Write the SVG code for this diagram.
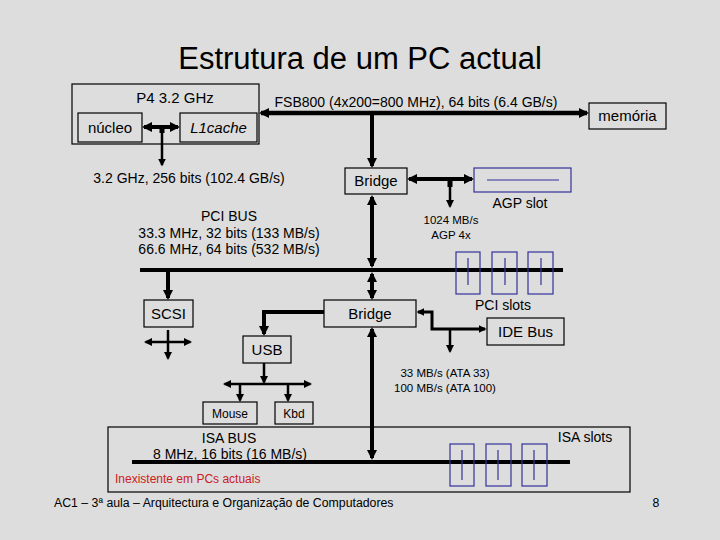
<svg xmlns="http://www.w3.org/2000/svg" width="720" height="540" viewBox="0 0 720 540">
<defs>
<style>
text{font-family:"Liberation Sans",Arial,sans-serif;fill:#000}
.box{fill:none;stroke:#000;stroke-width:1.2}
.slot{fill:none;stroke:#333399;stroke-width:1.2}
.lbl{font-size:15px;text-anchor:middle}
.t14{font-size:14px;text-anchor:middle}
.t12{font-size:12px;text-anchor:middle}
.t11{font-size:11.5px;text-anchor:middle}
.thick{stroke:#000;stroke-width:4;fill:none;marker-end:url(#a4)}
.thick2{stroke:#000;stroke-width:4;fill:none;marker-start:url(#a4);marker-end:url(#a4)}
.thin{stroke:#000;stroke-width:2.5;fill:none;marker-end:url(#a2)}
.thin2{stroke:#000;stroke-width:2.5;fill:none;marker-start:url(#a2);marker-end:url(#a2)}
.bus{stroke:#000;stroke-width:4;fill:none}
</style>
<marker id="a4" viewBox="0 0 10 10" markerWidth="10" markerHeight="10" refX="8" refY="5" orient="auto-start-reverse" markerUnits="userSpaceOnUse"><path d="M0,0 L10,5 L0,10 z" fill="#000"/></marker>
<marker id="a2" viewBox="0 0 10 10" markerWidth="8" markerHeight="8" refX="8" refY="5" orient="auto-start-reverse" markerUnits="userSpaceOnUse"><path d="M0,0 L10,5 L0,10 z" fill="#000"/></marker>
</defs>
<rect width="720" height="540" fill="#dddddd"/>
<text x="360" y="69" style="font-size:31px;text-anchor:middle">Estrutura de um PC actual</text>

<g id="connectors">
<line class="thick2" x1="144" y1="127" x2="178" y2="127"/>
<rect x="159.5" y="127" width="5" height="6" fill="#000"/>
<line class="thin" x1="162" y1="127" x2="162" y2="165"/>
<line class="thick2" x1="261" y1="113" x2="587" y2="113" style="stroke-width:4.5"/>
<line class="thick" x1="372" y1="113" x2="372" y2="166"/>
<line class="thick2" x1="409" y1="179" x2="472" y2="179"/>
<rect x="447.5" y="179" width="5" height="8" fill="#000"/>
<line class="thin" x1="450" y1="183" x2="450" y2="206.4"/>
<line class="thick2" x1="372" y1="197" x2="372" y2="266"/>
<line class="thick2" x1="372" y1="274" x2="372" y2="298"/>
<line class="bus" x1="140" y1="270" x2="563" y2="270"/>
<line class="thick" x1="168" y1="270" x2="168" y2="298"/>
<line class="thin2" x1="145.6" y1="342" x2="190.4" y2="342"/>
<line class="thin" x1="168" y1="330" x2="168" y2="358.4"/>
<path class="thick" d="M324,312 H264 V334"/>
<line class="thin" x1="264" y1="363" x2="264" y2="382.4"/>
<line class="thin2" x1="224.6" y1="384" x2="310.4" y2="384"/>
<line class="thin" x1="240" y1="384" x2="240" y2="400.4"/>
<line class="thin" x1="288" y1="384" x2="288" y2="400.4"/>
<line class="thick2" x1="372" y1="329" x2="372" y2="458"/>
<path class="thin2" d="M418,312 H432 V329 H485" style="stroke-width:3"/>
<line class="thin" x1="450" y1="329" x2="450" y2="351.4"/>
<line class="bus" x1="132" y1="462" x2="570" y2="462"/>
</g>

<g id="cpu">
<rect class="box" x="72" y="84" width="187" height="60"/>
<text class="lbl" x="175" y="103">P4 3.2 GHz</text>
</g>
<g id="nucleo">
<rect class="box" x="78" y="113" width="64" height="29"/>
<text class="lbl" x="110" y="133">núcleo</text>
</g>
<g id="l1cache">
<rect class="box" x="180" y="113" width="77" height="29"/>
<text class="lbl" x="218.5" y="133" style="font-style:italic">L1cache</text>
</g>
<g id="cpu-bus-label">
<text class="t14" x="189" y="183">3.2 GHz, 256 bits (102.4 GB/s)</text>
</g>
<g id="fsb-label">
<text class="t14" x="416" y="107">FSB800 (4x200=800 MHz), 64 bits (6.4 GB/s)</text>
</g>
<g id="memoria">
<rect class="box" x="589" y="103" width="77" height="26"/>
<text class="lbl" x="627.5" y="121">memória</text>
</g>
<g id="bridge1">
<rect class="box" x="345" y="168" width="62" height="26"/>
<text class="lbl" x="376" y="186">Bridge</text>
</g>
<g id="agp-slot">
<rect class="slot" x="474" y="168" width="97" height="24"/>
<line x1="487" y1="180" x2="559" y2="180" stroke="#333399" stroke-width="1.2"/>
<text class="t14" x="520" y="208">AGP slot</text>
</g>
<g id="agp-label">
<text class="t11" x="451" y="224">1024 MB/s</text>
<text class="t11" x="451" y="239">AGP 4x</text>
</g>
<g id="pci-bus-label">
<text class="t14" x="229" y="221">PCI BUS</text>
<text class="t14" x="229" y="238">33.3 MHz, 32 bits (133 MB/s)</text>
<text class="t14" x="229" y="254">66.6 MHz, 64 bits (532 MB/s)</text>
</g>
<g id="pci-slots">
<rect class="slot" x="456" y="252" width="24" height="42"/>
<rect class="slot" x="492" y="252" width="25" height="42"/>
<rect class="slot" x="528" y="252" width="25" height="42"/>
<line x1="468" y1="258" x2="468" y2="285" stroke="#333399" stroke-width="1.2"/>
<line x1="505" y1="258" x2="505" y2="285" stroke="#333399" stroke-width="1.2"/>
<line x1="541" y1="258" x2="541" y2="285" stroke="#333399" stroke-width="1.2"/>
<text class="t14" x="503" y="310">PCI slots</text>
</g>
<g id="scsi">
<rect class="box" x="144" y="300" width="49" height="27"/>
<text class="lbl" x="168.5" y="319">SCSI</text>
</g>
<g id="bridge2">
<rect class="box" x="324" y="300" width="92" height="27"/>
<text class="lbl" x="370" y="319">Bridge</text>
</g>
<g id="ide-bus">
<rect class="box" x="487" y="318" width="77" height="27"/>
<text class="lbl" x="525.5" y="337">IDE Bus</text>
</g>
<g id="ide-label">
<text class="t11" x="445" y="377">33 MB/s (ATA 33)</text>
<text class="t11" x="445" y="392">100 MB/s (ATA 100)</text>
</g>
<g id="usb">
<rect class="box" x="243" y="336" width="48" height="27"/>
<text class="lbl" x="267" y="355">USB</text>
</g>
<g id="mouse">
<rect class="box" x="203" y="402" width="54" height="22"/>
<text class="t12" x="230" y="418">Mouse</text>
</g>
<g id="kbd">
<rect class="box" x="275" y="402" width="38" height="22"/>
<text class="t12" x="294" y="418">Kbd</text>
</g>
<g id="isa">
<rect class="box" x="108" y="427" width="522" height="65"/>
<text class="t14" x="229" y="443">ISA BUS</text>
<text class="t14" x="230" y="459">8 MHz, 16 bits (16 MB/s)</text>
<text x="115" y="483" style="font-size:12px;fill:#cc2020">Inexistente em PCs actuais</text>
<text class="t14" x="585" y="442">ISA slots</text>
</g>
<g id="isa-slots">
<rect class="slot" x="450" y="444" width="24" height="42"/>
<rect class="slot" x="486" y="444" width="25" height="42"/>
<rect class="slot" x="522" y="444" width="25" height="42"/>
<line x1="462" y1="450" x2="462" y2="480" stroke="#333399" stroke-width="1.2"/>
<line x1="498" y1="450" x2="498" y2="480" stroke="#333399" stroke-width="1.2"/>
<line x1="534" y1="450" x2="534" y2="480" stroke="#333399" stroke-width="1.2"/>
</g>
<text x="54" y="507" style="font-size:12.3px">AC1 – 3ª aula – Arquitectura e Organização de Computadores</text>
<text x="656" y="507" style="font-size:12.3px;text-anchor:middle">8</text>
</svg>
